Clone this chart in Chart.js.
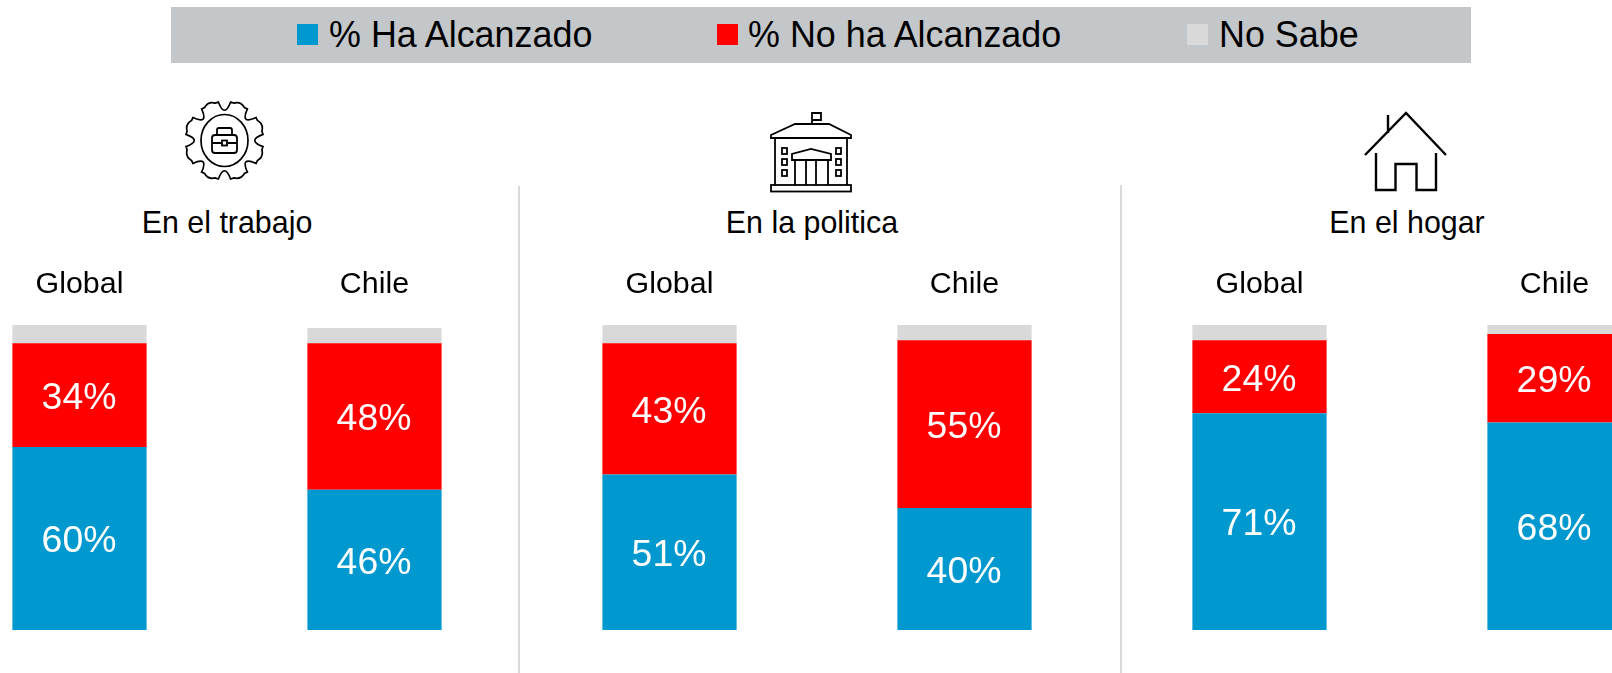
<!DOCTYPE html>
<html lang="es">
<head>
<meta charset="utf-8">
<script src="https://cdn.jsdelivr.net/npm/chart.js@4"></script>
<style>
html,body{margin:0;padding:0;background:#fff;width:1612px;height:673px;overflow:hidden;font-family:"Liberation Sans",Arial,sans-serif;color:#000}
#wrap{position:relative;width:1612px;height:673px;overflow:hidden}
#cv{position:absolute;left:-68px;top:0}
.band{position:absolute;left:171px;top:7px;width:1300px;height:56px;background:#c4c7ca}
.sw{position:absolute;top:24px;width:21px;height:21px}
.lg,.hd{position:absolute;white-space:nowrap}
.lg{font-size:35.9px;top:35px;transform:translate(0,-50%) scaleY(1.03)}
.hd{font-size:30.4px;top:222px;transform:translate(-50%,-50%) scaleY(1.06)}
.div{position:absolute;width:2px;background:#d9d9d9;bottom:0}
svg{position:absolute;left:0;top:0}
</style>
</head>
<body>
<div id="wrap">
<div class="band"></div>
<div id="legend"></div>
<div id="heads"></div>
<div class="div" style="left:518px;top:186px"></div>
<div class="div" style="left:1120px;top:185px"></div>
<svg width="1612" height="673" fill="none" stroke="#000" stroke-width="2">
  <path id="gear" stroke-width="1.7"/>
  <ellipse cx="224.5" cy="140.5" rx="23.5" ry="26" stroke-width="1.7"/>
  <g stroke-width="1.8">
    <rect x="212" y="135" width="25" height="18" rx="3"/>
    <path d="M217 135v-5q0-2 2-2h11q2 0 2 2v5M212 143h10M227 143h10"/>
    <rect x="222" y="140.5" width="5" height="5"/>
  </g>
  <g stroke-width="1.8">
    <path d="M812 124V113h9v7h-9M795 124h34l22 11v3H771v-3z"/>
    <path d="M775 138V185M847 138V185"/>
    <rect x="771" y="185" width="80" height="6.5"/>
    <rect x="782" y="148" width="5" height="6"/><rect x="782" y="159" width="5" height="6"/><rect x="782" y="170" width="5" height="6"/>
    <rect x="836" y="148" width="5" height="6"/><rect x="836" y="159" width="5" height="6"/><rect x="836" y="170" width="5" height="6"/>
    <path d="M792 160v-6l19-5 20 5v6zM795 160v25M806 160v25M816 160v25M828 160v25"/>
  </g>
  <g stroke-width="2.4">
    <path d="M1365 155L1406 113L1446 155M1388 133V115"/>
    <path d="M1376 153V190H1395.5V164H1416.5V190H1436V153"/>
  </g>
</svg>
<canvas id="cv" width="1770" height="673"></canvas>
</div>
<script>
const categories = ["Global","Chile","Global","Chile","Global","Chile"];
const haAlcanzado = [60,46,51,40,71,68];
const noAlcanzado = [34,48,43,55,24,29];
const noSabe = [6,5,6,5,5,3];
const seriesNames = ["% Ha Alcanzado","% No ha Alcanzado","No Sabe"];
const seriesColors = ["#0099cf","#ff0000","#d9d9d9"];
const groupTitles = ["En el trabajo","En la politica","En el hogar"];

const legendSwatchX=[297,717,1187], legendTextX=[329,748,1219], headX=[227,812,1407];
document.getElementById('legend').innerHTML = seriesNames.map((n,i)=>
  `<div class="sw" style="left:${legendSwatchX[i]}px;background:${seriesColors[i]}"></div><div class="lg" style="left:${legendTextX[i]}px">${n}</div>`).join('');
document.getElementById('heads').innerHTML = groupTitles.map((t,i)=>
  `<div class="hd" style="left:${headX[i]}px">${t}</div>`).join('');

// gear outline icon
(function(){
  const cx=224.5,cy=140.5,n=8;let d='';
  for(let i=0;i<n;i++){
    const a=i/n*2*Math.PI-Math.PI/2, w=Math.PI/n;
    const p=(ang,r)=>[(cx+r*Math.cos(ang)).toFixed(1),(cy+r*Math.sin(ang)).toFixed(1)].join(' ');
    d+=(i?'L':'M')+p(a-w*0.62,38.5)+' L'+p(a-w*0.4,39);
    d+=' Q'+p(a,22)+' '+p(a+w*0.4,39)+' L'+p(a+w*0.62,38.5);
    d+=' Q'+p(a+w,42.5)+' '+p(a+w*1.38,38.5)+' ';
  }
  document.getElementById('gear').setAttribute('d',d+'Z');
})();

const valueLabels = {
  id:'valueLabels',
  afterDatasetsDraw(chart){
    const c=chart.ctx;
    c.save();
    c.font='37.4px "Liberation Sans", Arial, sans-serif';
    c.fillStyle='#fff';c.textAlign='center';c.textBaseline='middle';
    [0,1].forEach(di=>{
      chart.getDatasetMeta(di).data.forEach((b,i)=>{
        const p=b.getProps(['x','y','base'],true);
        c.fillText(chart.data.datasets[di].data[i]+'%',p.x-0.5,(p.y+p.base)/2+3.5);
      });
    });
    c.restore();
  }
};

new Chart(document.getElementById('cv'),{
  type:'bar',
  data:{labels:categories,datasets:[
    {label:seriesNames[0],data:haAlcanzado,backgroundColor:seriesColors[0]},
    {label:seriesNames[1],data:noAlcanzado,backgroundColor:seriesColors[1]},
    {label:seriesNames[2],data:noSabe,backgroundColor:seriesColors[2]}
  ]},
  options:{
    responsive:false,animation:false,
    layout:{padding:{top:244.4,bottom:43,left:0,right:0}},
    datasets:{bar:{barPercentage:0.455,categoryPercentage:1,borderWidth:0}},
    plugins:{legend:{display:false},tooltip:{enabled:false},title:{display:false}},
    scales:{
      x:{stacked:true,position:'top',grid:{display:false,drawTicks:false},border:{display:false},
         ticks:{color:'#000',padding:22,maxRotation:0,autoSkip:false,font:{family:'"Liberation Sans", Arial, sans-serif',size:30.4}}},
      y:{stacked:true,display:false,min:0,max:100}
    }
  },
  plugins:[valueLabels]
});
</script>
</body>
</html>
